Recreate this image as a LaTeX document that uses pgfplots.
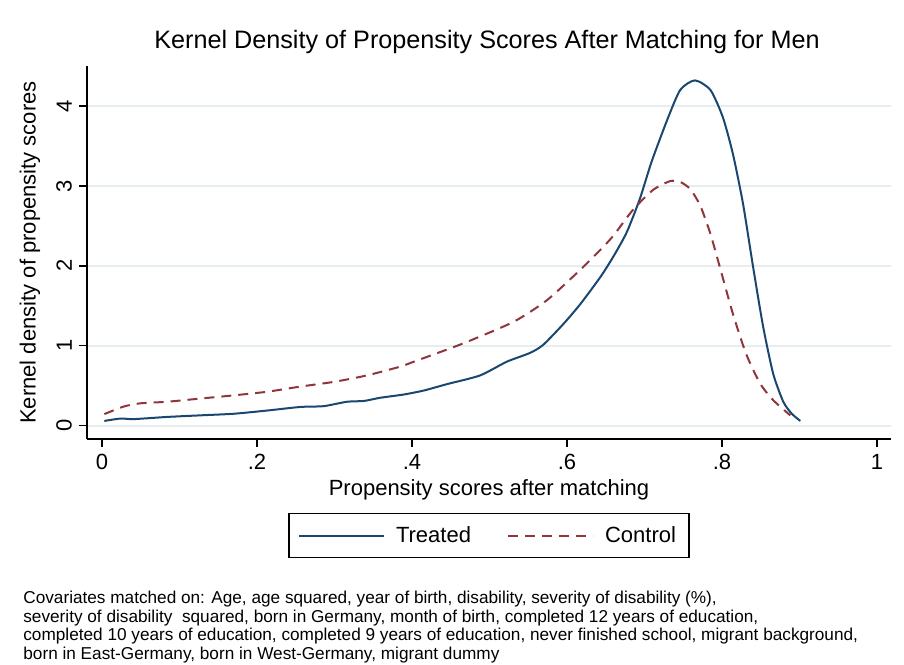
\documentclass[border=0pt]{standalone}
\usepackage{fontspec}
\setmainfont{Liberation Sans}
\usepackage{pgfplots}
\pgfplotsset{compat=1.18}
\definecolor{treat}{HTML}{1A476F}
\definecolor{ctrl}{HTML}{90353B}
\definecolor{gridc}{HTML}{E6EEF1}

\begin{document}
\begin{tikzpicture}
\path[use as bounding box] (-43.5pt,-112.5pt) rectangle (408.5pt,219.5pt);
\begin{axis}[
  at={(0pt,0pt)}, anchor=south west,
  width=402pt, height=186.5pt, scale only axis,
  xmin=-0.0194, xmax=1.018, ymin=-0.166, ymax=4.5,
  axis lines*=left, axis line style={-, line width=0.7pt},
  tick align=outside, major tick length=4pt,
  tick style={line width=0.7pt, black},
  xtick={0,0.2,0.4,0.6,0.8,1}, xticklabels={0,.2,.4,.6,.8,1},
  ytick={0,1,2,3,4},
  /pgf/number format/assume math mode=true,
  tick label style={font=\fontsize{11}{13}\selectfont},
  yticklabel style={rotate=90, anchor=south},
  ymajorgrids, grid style={gridc, line width=0.8pt},
  xlabel={Propensity scores after matching},
  ylabel={Kernel density of propensity scores},
  label style={font=\fontsize{11}{13}\selectfont},
  xlabel style={at={(axis description cs:0.5,0)}, anchor=center, yshift=-25.5pt},
  ylabel style={at={(axis description cs:0,0.5)}, anchor=center, yshift=28.5pt},
  legend columns=2,
  legend style={at={(0.5,-0.259)}, anchor=center, draw=black, line width=0.7pt,
    font=\fontsize{11}{13}\selectfont, inner xsep=4.5pt, inner ysep=4.3pt,
    /tikz/every odd column/.append style={column sep=3.5pt},
    /tikz/every even column/.append style={column sep=16pt}},
  legend image code/.code={\draw[#1] (0pt,0pt) -- (42.5pt,0pt);},
]
\addplot[treat, line width=1pt, smooth, tension=0.4] coordinates {
(0.003,0.06)(0.024,0.09)(0.041,0.083)(0.084,0.11)(0.127,0.13)(0.170,0.15)
(0.213,0.19)(0.256,0.235)(0.286,0.245)(0.316,0.30)(0.338,0.31)(0.359,0.35)
(0.389,0.39)(0.415,0.44)(0.445,0.52)(0.488,0.63)(0.522,0.80)(0.552,0.91)
(0.569,1.01)(0.595,1.27)(0.617,1.52)(0.643,1.86)(0.660,2.12)(0.677,2.42)
(0.694,2.84)(0.709,3.30)(0.729,3.82)(0.746,4.20)(0.765,4.32)(0.785,4.20)
(0.801,3.86)(0.814,3.40)(0.827,2.78)(0.840,1.99)(0.853,1.24)(0.866,0.65)
(0.879,0.30)(0.890,0.15)(0.901,0.06)
};
\addlegendentry{Treated}
\addplot[ctrl, line width=1pt, dash pattern=on 5pt off 3.5pt, smooth, tension=0.4] coordinates {
(0.003,0.146)(0.028,0.24)(0.049,0.28)(0.084,0.30)(0.127,0.34)(0.170,0.38)
(0.213,0.425)(0.256,0.49)(0.300,0.55)(0.342,0.63)(0.385,0.74)(0.402,0.80)
(0.466,1.03)(0.531,1.30)(0.574,1.57)(0.617,1.95)(0.643,2.20)(0.660,2.38)
(0.685,2.70)(0.711,2.95)(0.733,3.06)(0.746,3.05)(0.759,2.96)(0.772,2.75)
(0.785,2.40)(0.797,1.99)(0.814,1.40)(0.831,0.90)(0.849,0.53)(0.866,0.32)
(0.888,0.13)
};
\addlegendentry{Control}
\end{axis}
\node[anchor=center, font=\fontsize{12.6}{15}\selectfont] at (200pt,198.5pt)
  {Kernel Density of Propensity Scores After Matching for Men};
\node[anchor=north west, inner sep=0pt, align=left,
  font=\fontsize{8.6}{9.25}\selectfont] at (-32pt,-76pt)
  {Covariates matched on: Age, age squared, year of birth, disability, severity of disability (\%),\\
   severity of disability\ \ squared, born in Germany, month of birth, completed 12 years of education,\\
   completed 10 years of education, completed 9 years of education, never finished school, migrant background,\\
   born in East-Germany, born in West-Germany, migrant dummy};
\end{tikzpicture}
\end{document}
